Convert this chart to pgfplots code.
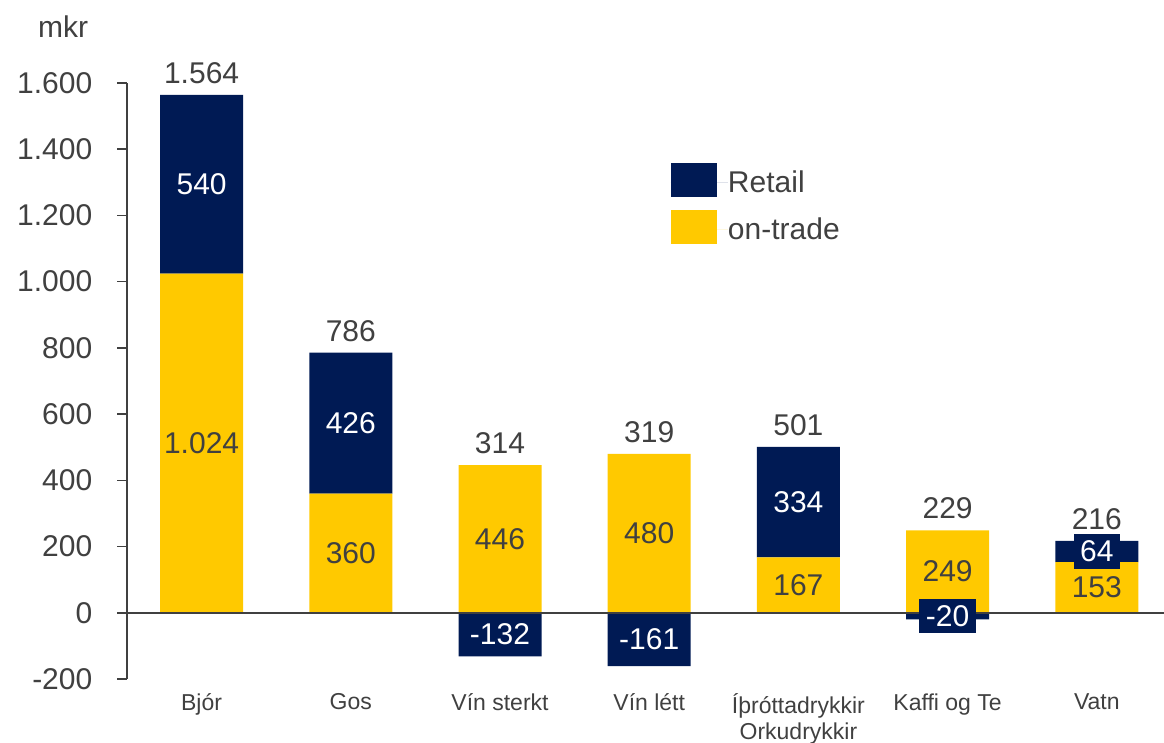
\documentclass[border=0pt]{standalone}
\usepackage{fontspec}
\setmainfont{Liberation Sans}
\usepackage{pgfplots}
\pgfplotsset{compat=1.18}
\definecolor{navy}{RGB}{0,26,84}
\definecolor{gold}{RGB}{255,201,0}
\definecolor{txt}{RGB}{64,64,64}
\definecolor{axisgray}{RGB}{64,64,64}
\pgfplotsset{
  base/.style={scale only axis, width=1037pt, height=596pt,
    xmin=-0.5, xmax=6.45, ymin=-200, ymax=1600, clip=false},
}
\tikzset{lbl/.style={font=\fontsize{30}{36}\selectfont}}
\begin{document}
\begin{tikzpicture}
\begin{axis}[
  base,
  ybar stacked, bar width=83pt,
  axis lines=left,
  axis line style={-},
  x axis line style={draw=none},
  y axis line style={draw=axisgray, line width=1.5pt},
  xtick={0,...,6},
  xticklabels={Bjór, Gos, Vín sterkt, Vín létt, {Íþróttadrykkir\\Orkudrykkir}, Kaffi og Te, Vatn},
  x tick style={draw=none},
  ytick={-200,0,200,...,1600},
  y tick style={draw=axisgray, line width=1.5pt},
  tick align=outside,
  major tick length=9.5pt,
  /pgf/number format/1000 sep={.},
  /pgf/number format/assume math mode=true,
  y tick label style={font=\fontsize{30}{36}\selectfont, text=txt, inner sep=0pt, anchor=east, xshift=-25pt},
  x tick label style={font=\fontsize{23}{26}\selectfont, text=txt, align=center, inner sep=0pt, anchor=north, yshift=-5pt},
  legend cell align=left,
  reverse legend,
  legend style={draw=none, fill=none, inner sep=0pt, outer sep=0pt,
    at={(0.5246,0.8653)}, anchor=north west, row sep=13.5pt,
    font=\fontsize{30}{36}\selectfont, text=txt, nodes={inner sep=0pt}},
]
\addplot[fill=gold, draw=none, legend image code/.code={\fill[gold] (0pt,-14.5pt) rectangle (46pt,19pt); \path (0pt,0pt) -- (57pt,0pt);}]
  coordinates {(0,1024) (1,360) (2,446) (3,480) (4,167) (5,249) (6,153)};
\addlegendentry{on-trade}
\addplot[fill=navy, draw=none, legend image code/.code={\fill[navy] (0pt,-14.5pt) rectangle (46pt,19pt); \path (0pt,0pt) -- (57pt,0pt);}]
  coordinates {(0,540) (1,426) (2,0) (3,0) (4,334) (5,0) (6,64)};
\addlegendentry{Retail}
\end{axis}
\begin{axis}[base, hide axis]
\addplot[ybar, bar width=83pt, bar shift=0pt, fill=navy, draw=none]
  coordinates {(2,-132) (3,-161) (5,-20)};
\draw[axisgray, line width=1.5pt] (axis cs:-0.5,0) -- (axis cs:6.45,0);
% on-trade labels
\addplot[only marks, mark=none,
  point meta=explicit symbolic, nodes near coords, nodes near coords align=center,
  every node near coord/.append style={anchor=center, lbl, text=txt, inner sep=0pt}]
  coordinates {(0,512) [1.024] (1,180) [360] (2,223) [446] (3,240) [480] (4,83.5) [167] (5,124.5) [249] (6,76.5) [153]};
% retail labels
\addplot[only marks, mark=none,
  point meta=explicit symbolic, nodes near coords, nodes near coords align=center,
  every node near coord/.append style={anchor=center, lbl, text=white, fill=navy, inner xsep=6.5pt, inner ysep=6.5pt}]
  coordinates {(0,1294) [540] (1,573) [426] (2,-66) [-132] (3,-80.5) [-161] (4,334) [334] (5,-10) [-20] (6,185) [64]};
% totals
\addplot[only marks, mark=none,
  point meta=explicit symbolic, nodes near coords,
  every node near coord/.append style={anchor=base, yshift=11.5pt, lbl, text=txt, inner sep=0pt}]
  coordinates {(0,1564) [1.564] (1,786) [786] (2,446) [314] (3,480) [319] (4,501) [501] (5,249) [229] (6,217) [216]};
\end{axis}
\node[anchor=base west, font=\fontsize{30}{36}\selectfont, text=txt, inner sep=0pt] at (-89pt,641pt) {mkr};
\pgfresetboundingbox
\useasboundingbox (-127pt,-64pt) rectangle (1037pt,679pt);
\end{tikzpicture}
\end{document}
